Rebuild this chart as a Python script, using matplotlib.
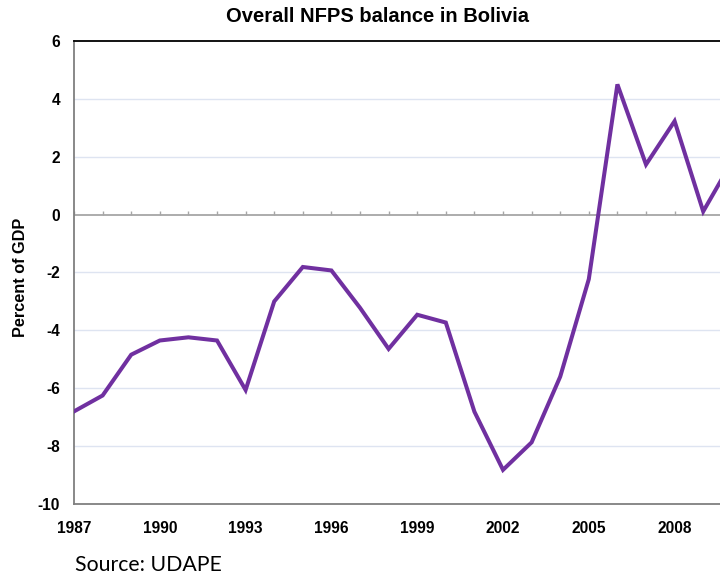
import matplotlib
matplotlib.use("Agg")
import matplotlib.pyplot as plt
import numpy as np

# overall non-financial public sector balance, % of GDP
years = list(range(1987, 2011))
balance = [-6.80, -6.25, -4.84, -4.35, -4.24, -4.35, -6.06, -3.00, -1.81, -1.93,
           -3.22, -4.64, -3.46, -3.73, -6.81, -8.82, -7.87, -5.60, -2.23, 4.50,
           1.73, 3.23, 0.11, 1.83]
xtick_years = list(range(1987, 2011, 3))
ytick_vals = list(range(-10, 7, 2))

purple = "#7030A0"
plt.rcParams["font.family"] = ["Liberation Sans", "DejaVu Sans"]

fig = plt.figure(figsize=(7.2, 5.77), dpi=100)
# axes run a little past the right edge of the figure
ax = fig.add_axes([0.1028, 0.1265, 0.9136, 0.8025])

ax.set_xlim(1987, 2010)
ax.set_ylim(-10, 6)

# light horizontal gridlines (not at 0 / the frame)
for v in ytick_vals:
    if v not in (-10, 0, 6):
        ax.axhline(v, color="#DEE4F1", lw=1.0, zorder=0)

# zero axis with little year ticks pointing up
ax.axhline(0, color="#A6A6A6", lw=1.3, zorder=1)
ax.vlines(years, 0, 0.14, color="#A6A6A6", lw=1.0, zorder=1)

ax.plot(years, balance, color=purple, lw=2.9, solid_joinstyle="miter", zorder=3)

ax.set_xticks(xtick_years)
ax.set_xticklabels([str(y) for y in xtick_years], fontsize=11.2, fontweight="bold")
ax.set_yticks(ytick_vals)
ax.set_yticklabels([str(v) for v in ytick_vals], fontsize=11.2, fontweight="bold")
ax.tick_params(axis="both", length=0)
ax.tick_params(axis="y", pad=10)
ax.tick_params(axis="x", pad=12)

for s in ("left", "bottom"):
    ax.spines[s].set_color("#7F7F7F")
    ax.spines[s].set_linewidth(1.3)
ax.spines["top"].set_color("black")
ax.spines["top"].set_linewidth(1.3)
ax.spines["right"].set_visible(False)

ax.set_ylabel("Percent of GDP", fontsize=11.7, fontweight="bold", va="center")
ax.yaxis.set_label_coords(-0.082, 0.49)

fig.text(378 / 720, 1 - 16 / 577, "Overall NFPS balance in Bolivia",
         ha="center", va="center", fontsize=14.5, fontweight="bold")
fig.text(75 / 720, 1 - 565 / 577, "Source: UDAPE", ha="left", va="center",
         fontsize=15.3, family=["Lato", "DejaVu Sans"])

fig.savefig("out.png", dpi=100)
